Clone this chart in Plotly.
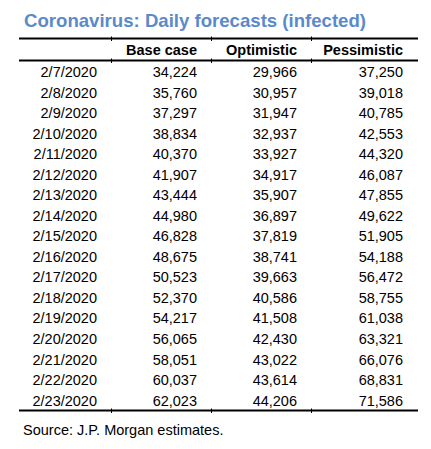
import plotly.graph_objects as go

title = "Coronavirus: Daily forecasts (infected)"
source = "Source: J.P. Morgan estimates."
headers = ["", "Base case", "Optimistic", "Pessimistic"]
dates = ["2/7/2020", "2/8/2020", "2/9/2020", "2/10/2020", "2/11/2020", "2/12/2020",
         "2/13/2020", "2/14/2020", "2/15/2020", "2/16/2020", "2/17/2020", "2/18/2020",
         "2/19/2020", "2/20/2020", "2/21/2020", "2/22/2020", "2/23/2020"]
base_case = [34224, 35760, 37297, 38834, 40370, 41907, 43444, 44980, 46828, 48675,
             50523, 52370, 54217, 56065, 58051, 60037, 62023]
optimistic = [29966, 30957, 31947, 32937, 33927, 34917, 35907, 36897, 37819, 38741,
              39663, 40586, 41508, 42430, 43022, 43614, 44206]
pessimistic = [37250, 39018, 40785, 42553, 44320, 46087, 47855, 49622, 51905, 54188,
               56472, 58755, 61038, 63321, 66076, 68831, 71586]

W, H = 431, 449
FONT = "Liberation Sans, Arial, sans-serif"
col_right = [97, 197, 297, 403]     # right edge of text in each column (px)
row0, pitch = 73.5, 20.53           # row 0 centre and row pitch (px)
header_row = -1.1

def fmt(v):
    return f"{v:,}"

columns = [dates, [fmt(v) for v in base_case], [fmt(v) for v in optimistic],
           [fmt(v) for v in pessimistic]]

fig = go.Figure()
n = len(dates)
for j, col in enumerate(columns):
    fig.add_trace(go.Scatter(
        x=[col_right[j]] * n, y=list(range(n)), text=col, mode="text",
        textposition="middle left",
        textfont=dict(family=FONT, size=14.5, color="#000000"),
        hoverinfo="skip", showlegend=False))
    if headers[j]:
        fig.add_trace(go.Scatter(
            x=[col_right[j]], y=[header_row], text=[headers[j]], mode="text",
            textposition="middle left",
            textfont=dict(family=FONT, size=14.5, color="#000000", weight="bold"),
            hoverinfo="skip", showlegend=False))

def py(p):
    return (p - row0) / pitch

shapes = []
x0, x1 = 19, 418
for yy in [38.5, 60.5, 410.5]:
    shapes.append(dict(type="line", xref="x", yref="y", x0=x0, x1=x1, y0=py(yy), y1=py(yy),
                       line=dict(color="#000000", width=2)))
for xx in [111.5, 211.5, 311.5]:
    for yy in [38.5, 60.5, 410.5]:
        shapes.append(dict(type="line", xref="x", yref="y", x0=xx, x1=xx,
                           y0=py(yy - 2), y1=py(yy + 2.5),
                           line=dict(color="#000000", width=1)))

fig.update_layout(
    width=W, height=H, margin=dict(l=0, r=0, t=0, b=0),
    paper_bgcolor="white", plot_bgcolor="white",
    xaxis=dict(range=[0, W], visible=False, fixedrange=True),
    yaxis=dict(range=[py(H), py(0)], visible=False, fixedrange=True),
    shapes=shapes,
    annotations=[
        dict(text=title, xref="paper", yref="paper", x=22 / W, y=1 - 20.5 / H,
             xanchor="left", yanchor="middle", showarrow=False,
             font=dict(family=FONT, size=18.6, color="#5B8ACB", weight="bold")),
        dict(text=source, xref="paper", yref="paper", x=21 / W, y=1 - 429.5 / H,
             xanchor="left", yanchor="middle", showarrow=False,
             font=dict(family=FONT, size=14.5, color="#000000")),
    ],
)
fig.write_html("out.html", config={"displayModeBar": False},
               post_script="document.body.style.margin='0';document.body.style.overflow='hidden';")
